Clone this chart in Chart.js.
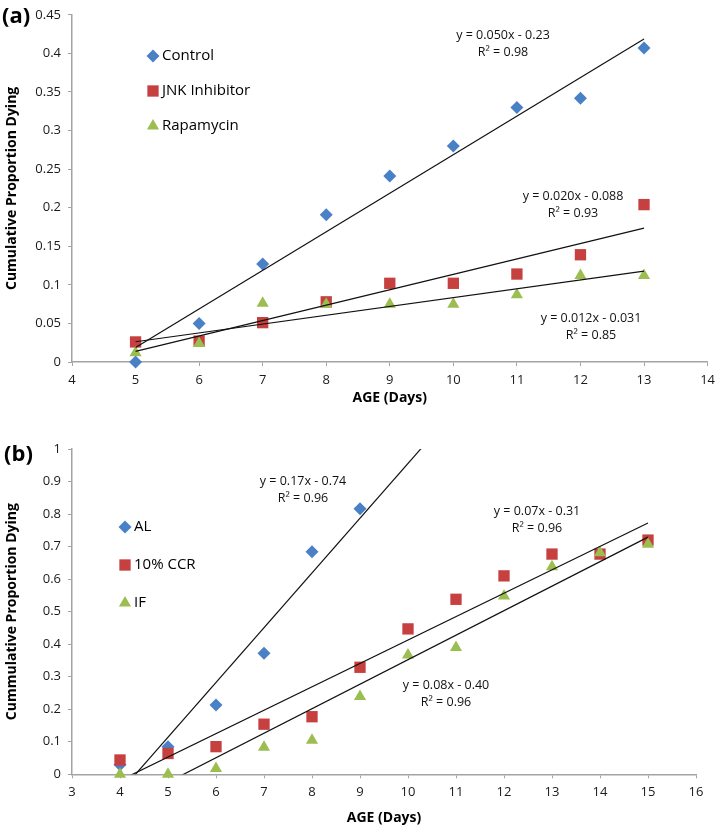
<!DOCTYPE html>
<html>
<head>
<meta charset="utf-8">
<script src="https://cdn.jsdelivr.net/npm/chart.js@4.4.1/dist/chart.umd.min.js"></script>
<style>
  html, body { margin: 0; padding: 0; background: #fff; }
  .panel { position: absolute; left: 0; width: 721px; }
  #wrapA { top: 0; height: 410px; }
  #wrapB { top: 410px; height: 420px; }
</style>
</head>
<body>
<div class="panel" id="wrapA"><canvas id="chartA" width="721" height="410"></canvas></div>
<div class="panel" id="wrapB"><canvas id="chartB" width="721" height="420"></canvas></div>
<script>
'use strict';

/* ---------- panel (a) ---------- */
const daysA = [5, 6, 7, 8, 9, 10, 11, 12, 13];
const controlA = [0, 0.050, 0.127, 0.191, 0.241, 0.280, 0.330, 0.342, 0.407];
const jnkA = [0.026, 0.027, 0.051, 0.078, 0.102, 0.102, 0.114, 0.139, 0.204];
const rapaA = [0.012, 0.024, 0.076, 0.075, 0.075, 0.075, 0.087, 0.112, 0.112];
const namesA = ['Control', 'JNK Inhibitor', 'Rapamycin'];
const eqA = [
  ['y = 0.050x - 0.23', 'R² = 0.98'],
  ['y = 0.020x - 0.088', 'R² = 0.93'],
  ['y = 0.012x - 0.031', 'R² = 0.85']
];

/* ---------- panel (b) ---------- */
const daysAL = [4, 5, 6, 7, 8, 9];
const daysB = [4, 5, 6, 7, 8, 9, 10, 11, 12, 13, 14, 15];
const alB = [0.029, 0.085, 0.213, 0.372, 0.684, 0.816];
const ccrB = [0.044, 0.064, 0.085, 0.154, 0.177, 0.329, 0.447, 0.538, 0.610, 0.677, 0.677, 0.720];
const ifB = [0, 0, 0.018, 0.083, 0.105, 0.239, 0.367, 0.390, 0.548, 0.638, 0.681, 0.707];
const namesB = ['AL', '10% CCR', 'IF'];
const eqB = [
  ['y = 0.17x - 0.74', 'R² = 0.96'],
  ['y = 0.07x - 0.31', 'R² = 0.96'],
  ['y = 0.08x - 0.40', 'R² = 0.96']
];
const trendEndB = [11, 15, 15];   // AL trend is forecast past the last point

/* ---------- styling ---------- */
const markerColors = ['#4a80c6', '#c6403f', '#9cbd50'];
const markerStyles = ['rectRot', 'rect', 'triangle'];
const markerRadius = [6.5, 8, 7];
const axisGray = '#a3a3a3';

Chart.defaults.font.family = '"Open Sans", "Liberation Sans", sans-serif';
Chart.defaults.color = '#1a1a1a';

function pairs(xs, ys) {
  return xs.map((x, i) => ({ x, y: ys[i] }));
}

// least squares fit, same as the spreadsheet trendline
function fitLine(xs, ys) {
  const n = xs.length;
  const mx = xs.reduce((s, v) => s + v, 0) / n;
  const my = ys.reduce((s, v) => s + v, 0) / n;
  let sxy = 0, sxx = 0;
  xs.forEach((x, i) => { sxy += (x - mx) * (ys[i] - my); sxx += (x - mx) * (x - mx); });
  const m = sxy / sxx;
  return { m, b: my - m * mx };
}

function trendSet(xs, ys, x0, x1) {
  const f = fitLine(xs, ys);
  return {
    type: 'line',
    data: [{ x: x0, y: f.m * x0 + f.b }, { x: x1, y: f.m * x1 + f.b }],
    borderColor: '#111',
    borderWidth: 1.2,
    pointRadius: 0,
    fill: false,
    order: 0
  };
}

function markerSet(label, xs, ys, i) {
  return {
    type: 'scatter',
    label,
    data: pairs(xs, ys),
    pointStyle: markerStyles[i],
    pointRadius: markerRadius[i],
    backgroundColor: markerColors[i],
    borderWidth: 0,
    clip: false,        // points sitting on y = 0 are drawn whole
    order: 3 - i        // later series sit on top, lines above all
  };
}

// panel letter, in-plot legend and trendline equations
function notesPlugin(cfg) {
  return {
    id: 'notes',
    afterDatasetsDraw(chart) {
      const ctx = chart.ctx;
      ctx.save();
      ctx.fillStyle = '#000';
      ctx.textBaseline = 'middle';
      ctx.textAlign = 'left';
      ctx.font = 'bold 22px "Open Sans", sans-serif';
      ctx.fillText(cfg.panel, cfg.panelPos[0], cfg.panelPos[1]);

      ctx.font = '15px "Open Sans", sans-serif';
      cfg.names.forEach((name, i) => {
        const y = cfg.legendY[i];
        ctx.fillStyle = markerColors[i];
        Chart.helpers.drawPoint(ctx, { pointStyle: markerStyles[i], radius: markerRadius[i], borderWidth: 0, rotation: 0 }, cfg.legendX, y);
        ctx.fillStyle = '#000';
        ctx.fillText(name, cfg.legendX + 9, y);
      });

      ctx.font = '12.5px "Open Sans", sans-serif';
      ctx.textAlign = 'center';
      ctx.fillStyle = '#111';
      cfg.eqs.forEach((eq, i) => {
        const [x, y] = cfg.eqPos[i];
        ctx.fillText(eq[0], x, y);
        ctx.fillText(eq[1], x, y + 17);
      });
      ctx.restore();
    }
  };
}

function axes(xMin, xMax, yMax, yStep, yTitle, xHeight) {
  const grid = { drawOnChartArea: false, drawTicks: true, tickLength: 4, color: axisGray };
  return {
    x: {
      type: 'linear', min: xMin, max: xMax,
      ticks: { stepSize: 1, padding: 6, font: { size: 13 }, color: '#1a1a1a' },
      grid, border: { color: axisGray, width: 1.5 },
      title: { display: true, text: 'AGE (Days)', font: { size: 14, weight: 'bold' }, color: '#000', padding: { top: 4, bottom: 4 } },
      afterFit: s => { s.height = xHeight; }
    },
    y: {
      type: 'linear', min: 0, max: yMax,
      ticks: { stepSize: yStep, padding: 7, font: { size: 13 }, color: '#1a1a1a', callback: v => String(+v.toFixed(2)) },
      grid, border: { color: axisGray, width: 1.5 },
      title: { display: true, text: yTitle, font: { size: 14, weight: 'bold' }, color: '#000', padding: { top: 4, bottom: 4 } },
      afterFit: s => { s.width = 72; }
    }
  };
}

const baseOpts = {
  responsive: false,
  animation: false,
  events: [],
  plugins: { legend: { display: false }, tooltip: { enabled: false } }
};

new Chart(document.getElementById('chartA'), {
  type: 'scatter',
  data: {
    datasets: [
      markerSet(namesA[0], daysA, controlA, 0),
      markerSet(namesA[1], daysA, jnkA, 1),
      markerSet(namesA[2], daysA, rapaA, 2),
      trendSet(daysA, controlA, daysA[0], daysA[daysA.length - 1]),
      trendSet(daysA, jnkA, daysA[0], daysA[daysA.length - 1]),
      trendSet(daysA, rapaA, daysA[0], daysA[daysA.length - 1])
    ]
  },
  options: Object.assign({}, baseOpts, {
    layout: { padding: { top: 9, right: 10, bottom: 0, left: 0 } },
    scales: axes(4, 14, 0.45, 0.05, 'Cumulative Proportion Dying', 48)
  }),
  plugins: [notesPlugin({
    panel: '(a)', panelPos: [2, 17],
    names: namesA, legendX: 153, legendY: [56, 91, 126],
    eqs: eqA, eqPos: [[503, 35], [573, 196], [591, 318]]
  })]
});

new Chart(document.getElementById('chartB'), {
  type: 'scatter',
  data: {
    datasets: [
      markerSet(namesB[0], daysAL, alB, 0),
      markerSet(namesB[1], daysB, ccrB, 1),
      markerSet(namesB[2], daysB, ifB, 2),
      trendSet(daysAL, alB, daysAL[0], trendEndB[0]),
      trendSet(daysB, ccrB, daysB[0], trendEndB[1]),
      trendSet(daysB, ifB, daysB[0], trendEndB[2])
    ]
  },
  options: Object.assign({}, baseOpts, {
    layout: { padding: { top: 39, right: 25, bottom: 0, left: 0 } },
    scales: axes(3, 16, 1, 0.1, 'Cummulative Proportion Dying', 55.7)
  }),
  plugins: [notesPlugin({
    panel: '(b)', panelPos: [4, 45],
    names: namesB, legendX: 125, legendY: [117, 155, 193],
    eqs: eqB, eqPos: [[303, 71], [537, 101], [446, 275]]
  })]
});
</script>
</body>
</html>
